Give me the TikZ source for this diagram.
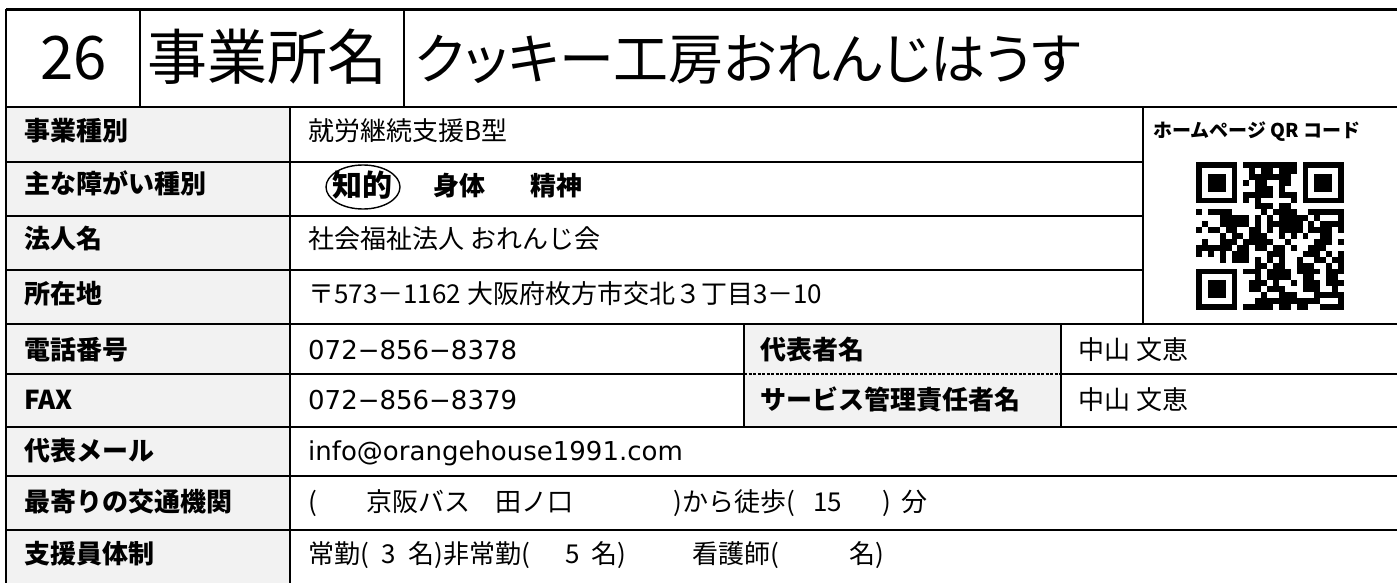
\documentclass[tikz,border=0pt]{standalone}
\usepackage{fontspec}
\setmainfont{Noto Sans CJK JP}
\newfontfamily\paltfont[RawFeature=+palt]{Noto Sans CJK JP}
\newfontfamily\latinfont{DejaVu Sans}
\definecolor{cellgray}{HTML}{F2F2F2}

\tikzset{
  rule/.style={line width=2.6pt},
  dashrule/.style={line width=1.2pt, dash pattern=on 3pt off 1.5pt},
  txt/.style={anchor=base west, inner sep=0pt, font=\fontsize{26}{26}\selectfont},
  lbl/.style={txt, font=\fontsize{26}{26}\selectfont\bfseries},
  big/.style={txt, font=\fontsize{60}{60}\selectfont},
}

\newcommand\qrmod{5.92}
\newcommand\qrfinder[2]{%
  \fill (#1,#2) rectangle ++(7*\qrmod,7*\qrmod);
  \fill[white] ({#1+\qrmod},{#2+\qrmod}) rectangle ++(5*\qrmod,5*\qrmod);
  \fill ({#1+2*\qrmod},{#2+2*\qrmod}) rectangle ++(3*\qrmod,3*\qrmod);
}

\begin{document}
\begin{tikzpicture}[x=1pt,y=-1pt]
  \useasboundingbox (0,0) rectangle (1397,583);

  % gray cells
  \fill[cellgray] (6,107) rectangle (290,583);
  \fill[cellgray] (744,324) rectangle (1061,427);

  % title row
  \node[big] (num) at (40,80) {26};
  \node[big] (office) at (147,80) {事業所名};
  \node[big, font=\fontsize{55}{55}\selectfont\paltfont] (name) at (415,80) {クッキー工房おれんじはうす};

  % labels
  \node[lbl] (kind) at (24,140) {事業種別};
  \node[lbl] (dis) at (24,193) {主な障がい種別};
  \node[lbl] (corp) at (24,248) {法人名};
  \node[lbl] (addr) at (24,303) {所在地};
  \node[lbl] (tel) at (24,359) {電話番号};
  \node[lbl] (fax) at (24,409) {FAX};
  \node[lbl] (mail) at (24,460) {代表メール};
  \node[lbl] (access) at (24,511) {最寄りの交通機関};
  \node[lbl] (staff) at (24,563) {支援員体制};
  \node[lbl] (rep) at (760,359) {代表者名};
  \node[lbl] (mgr) at (760,409) {サービス管理責任者名};

  % contents
  \node[txt] (kindv) at (308,140) {就労継続支援B型};
  \node[lbl, font=\fontsize{30}{30}\selectfont\bfseries] (chiteki) at (332,196) {知的};
  \draw[line width=1.4pt] (363,187) ellipse (37 and 22);
  \node[lbl] (shintai) at (433,195) {身体};
  \node[lbl] (seishin) at (530,195) {精神};
  \node[txt] (corpv) at (308,248) {社会福祉法人 おれんじ会};
  \node[txt] (addrv) at (308,303) {〒573－1162 大阪府枚方市交北３丁目3－10};
  \node[txt, font=\fontsize{26}{26}\selectfont\latinfont] (telv) at (308,359) {072−856−8378};
  \node[txt, font=\fontsize{26}{26}\selectfont\latinfont] (faxv) at (308,409) {072−856−8379};
  \node[txt] (repv) at (1078,359) {中山 文恵};
  \node[txt] (mgrv) at (1078,409) {中山 文恵};
  \node[txt, font=\fontsize{26}{26}\selectfont\latinfont] (mailv) at (308,460) {info@orangehouse1991.com};
  \node[txt] (accessv) at (308,511)
    {(\hspace{50pt}京阪バス\hspace{25pt}田ノ口\hspace{100pt})から徒歩(\hspace{18pt}15\hspace{40pt})\hspace{10pt}分};
  \node[txt] (staffv) at (308,563)
    {常勤(\hspace{13pt}3\hspace{12pt}名)非常勤(\hspace{36pt}5\hspace{11pt}名)\hspace{66pt}看護師(\hspace{70pt}名)};

  % qr code
  \node[lbl, font=\fontsize{19}{19}\selectfont\bfseries] (qrtitle) at (1153,138) {ホームページ QR コード};
  \qrfinder{1196}{162}
  \qrfinder{1196+18*\qrmod}{162}
  \qrfinder{1196}{162+18*\qrmod}
  \foreach \i in {0,...,24}
    \foreach \j in {0,...,24}{
      \pgfmathtruncatemacro\infinder{or(or(and(\i<8,\j<8),and(\i>16,\j<8)),and(\i<8,\j>16))}
      \pgfmathtruncatemacro\qrbit{mod(mod(\i*\i*\j,97)+\j*\j*3+\i*\j*5+\i*7+\j*11,7)<4}
      \ifnum\infinder=0 \ifnum\qrbit=1
        \fill ({1196+\i*\qrmod},{162+\j*\qrmod}) rectangle ++(\qrmod,\qrmod);
      \fi\fi
    }

  % horizontal rules
  \draw[rule] (6,9.5) -- (1397,9.5);
  \draw[rule] (6,107) -- (1397,107);
  \foreach \y in {162,216,270}
    \draw[rule] (6,\y) -- (1143,\y);
  \draw[rule] (6,324) -- (1397,324);
  \draw[rule] (6,374) -- (744,374);
  \draw[dashrule] (744,374) -- (1061,374);
  \draw[rule] (1061,374) -- (1397,374);
  \foreach \y in {427,476,530}
    \draw[rule] (6,\y) -- (1397,\y);

  % vertical rules
  \draw[rule] (6,9.5) -- (6,583);
  \draw[rule] (140,9.5) -- (140,107);
  \draw[rule] (404,9.5) -- (404,107);
  \draw[rule] (290,107) -- (290,583);
  \draw[rule] (1143,107) -- (1143,324);
  \draw[rule] (744,324) -- (744,427);
  \draw[rule] (1061,324) -- (1061,427);
\end{tikzpicture}
\end{document}
